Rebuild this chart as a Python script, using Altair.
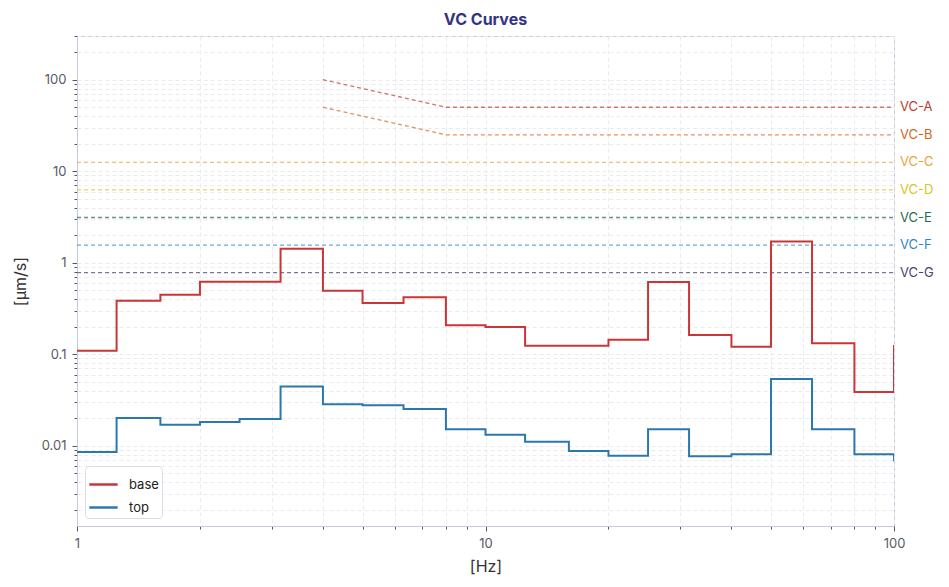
import altair as alt
import pandas as pd

# one-third octave band frequencies [Hz]
freq = [1, 1.25, 1.6, 2, 2.5, 3.15, 4, 5, 6.3, 8, 10, 12.5, 16, 20, 25, 31.5, 40, 50, 63, 80, 100]
base = [0.109, 0.384, 0.447, 0.62, 0.62, 1.42, 0.494, 0.363, 0.42, 0.208, 0.198, 0.124, 0.124,
        0.144, 0.615, 0.162, 0.121, 1.71, 0.132, 0.0387, 0.126]
top = [0.00853, 0.0201, 0.017, 0.0182, 0.0196, 0.0445, 0.0285, 0.0278, 0.0253, 0.0152, 0.0132,
       0.0111, 0.0088, 0.00778, 0.0152, 0.0077, 0.0081, 0.0536, 0.0152, 0.0081, 0.0068]

# VC criteria curves
vc_names = ["VC-A", "VC-B", "VC-C", "VC-D", "VC-E", "VC-F", "VC-G"]
vc_freq = [[4, 8, 100], [4, 8, 100], [1, 100], [1, 100], [1, 100], [1, 100], [1, 100]]
vc_vals = [[100, 50, 50], [50, 25, 25], [12.5, 12.5], [6.25, 6.25], [3.12, 3.12], [1.56, 1.56], [0.78, 0.78]]
vc_colors = ["#c0392b", "#d9641e", "#eea23a", "#d6c51e", "#1f6b52", "#2e86c1", "#4a4272"]

steps = pd.DataFrame(
    [{"f": f, "v": v, "series": "base"} for f, v in zip(freq, base)]
    + [{"f": f, "v": v, "series": "top"} for f, v in zip(freq, top)]
)
vc_df = pd.DataFrame(
    [{"f": f, "v": v, "name": n} for n, fs, vs in zip(vc_names, vc_freq, vc_vals) for f, v in zip(fs, vs)]
)
vc_lab = pd.DataFrame({"f": [fs[-1] for fs in vc_freq], "v": [vs[-1] for vs in vc_vals], "name": vc_names})

xticks = [k * 10 ** n for n in range(0, 2) for k in range(1, 10)] + [100]
yticks = [k * 10 ** n for n in range(-3, 3) for k in range(1, 10)]
yticks = [t for t in yticks if 0.00133 <= t <= 300]

major = "abs(log(datum.value)/LN10 - round(log(datum.value)/LN10)) < 1e-6"
label_expr = "abs(log(datum.value)/LN10 - round(log(datum.value)/LN10)) < 1e-6 ? datum.label : ''"

xscale = alt.Scale(type="log", domain=[1, 100], nice=False)
yscale = alt.Scale(type="log", domain=[0.00133, 300], nice=False)

common_axis = dict(
    grid=True, gridColor="#eaeaf0", gridDash=[4, 3], gridWidth=1,
    domainColor="#c8c8dc", tickColor="#555566", labelColor="#5a5a66",
    labelFont="Inter", labelFontSize=13, titleFont="Inter", titleFontSize=16,
    titleColor="#333333", titleFontWeight="normal", labelExpr=label_expr,
    tickSize={"condition": {"test": major, "value": 5}, "value": 3},
    labelPadding=6,
)

xaxis = alt.Axis(values=xticks, title="[Hz]", format="~g", labelFlush=False, titlePadding=8, **common_axis)
yaxis = alt.Axis(values=yticks, title="[µm/s]", format="~g", titlePadding=13, **common_axis)

step_layer = alt.Chart(steps).mark_line(interpolate="step-after", strokeWidth=2, clip=True).encode(
    x=alt.X("f:Q", scale=xscale, axis=xaxis),
    y=alt.Y("v:Q", scale=yscale, axis=yaxis),
    color=alt.Color(
        "series:N",
        scale=alt.Scale(domain=["base", "top"], range=["#cc3535", "#2a78ad"]),
        legend=alt.Legend(
            title=None, orient="bottom-left", offset=8, symbolType="stroke", symbolSize=800,
            symbolStrokeWidth=2.5, labelFont="Inter", labelFontSize=13, labelColor="#222222",
            strokeColor="#dcdce6", fillColor="white", cornerRadius=4, padding=3, rowPadding=0,
            labelOffset=10,
        ),
    ),
)

vc_layer = alt.Chart(vc_df).mark_line(strokeWidth=1.3, strokeDash=[4, 3], opacity=0.7, clip=True).encode(
    x=alt.X("f:Q", scale=xscale),
    y=alt.Y("v:Q", scale=yscale),
    color=alt.Color("name:N", scale=alt.Scale(domain=vc_names, range=vc_colors), legend=None),
)

vc_text = alt.Chart(vc_lab).mark_text(align="left", baseline="middle", dx=6, font="Inter", fontSize=13).encode(
    x=alt.X("f:Q", scale=xscale),
    y=alt.Y("v:Q", scale=yscale),
    text="name:N",
    color=alt.Color("name:N", scale=alt.Scale(domain=vc_names, range=vc_colors), legend=None),
)

chart = (
    alt.layer(vc_layer, step_layer, vc_text)
    .resolve_scale(color="independent")
    .properties(
        width=817, height=490,
        title=alt.TitleParams("VC Curves", font="Inter", fontSize=16, fontWeight="bold", color="#343482", offset=8),
        autosize=alt.AutoSizeParams(type="none"),
        padding={"left": 69, "top": 28, "right": 40, "bottom": 58},
    )
    .configure_view(stroke="#c8c8dc")
)

chart.save("out.html", embed_options={"renderer": "svg", "actions": False})
